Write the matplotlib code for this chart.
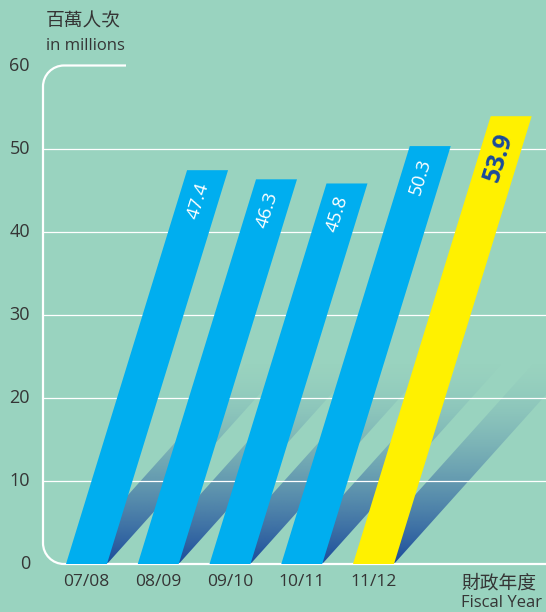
import numpy as np
import matplotlib.pyplot as plt
from matplotlib.patches import Polygon, PathPatch
from matplotlib.path import Path
from matplotlib.colors import to_rgb

plt.rcParams['font.family'] = ['Open Sans', 'Noto Sans CJK TC']

years = ["07/08", "08/09", "09/10", "10/11", "11/12"]
riders = [47.4, 46.3, 45.8, 50.3, 53.9]
y_ticks = [0, 10, 20, 30, 40, 50, 60]

BG = "#99d3bf"
CYAN = "#00aeef"
YELLOW = "#fff100"
NAVY = "#1b4b9b"
INK = "#353535"

W, H = 546, 612
fig = plt.figure(figsize=(W / 100, H / 100), dpi=100, facecolor=BG)

# plot area (pixels) and matching data limits
PX_L, PX_R, PX_B, PX_T = 43, 546, 564, 65.5
XMIN, XMAX = -0.606, 6.404
YMAX = 60
ax = fig.add_axes([PX_L / W, 1 - PX_B / H, (PX_R - PX_L) / W, (PX_B - PX_T) / H])
ax.set_xlim(XMIN, XMAX)
ax.set_ylim(0, YMAX)
ax.axis("off")


def px2x(px):
    return XMIN + (px - PX_L) / (PX_R - PX_L) * (XMAX - XMIN)


def px2y(py):
    return (PX_B - py) / (PX_B - PX_T) * YMAX


bar_w = 0.571
lean = 0.0356        # sideways drift of a bar per unit of height
shadow_lean = 0.104  # drift of the floor shadow
shadow_h = 28

# gradient used for the shadows
v = np.linspace(0, shadow_h, 256)
alpha = np.clip(1 - v / 25, 0, 1) ** 1.7
grad = np.zeros((256, 2, 4))
grad[..., :3] = to_rgb(NAVY)
grad[..., 3] = alpha[:, None]

for i, val in enumerate(riders):
    x0, x1 = i - bar_w / 2, i + bar_w / 2
    sh = Polygon([(x0, 0), (x1, 0), (x1 + shadow_lean * shadow_h, shadow_h),
                  (x0 + shadow_lean * shadow_h, shadow_h)], closed=True,
                 transform=ax.transData, facecolor="none", edgecolor="none")
    ax.add_patch(sh)
    im = ax.imshow(grad, extent=(XMIN, XMAX + 2, 0, shadow_h), origin="lower",
                   aspect="auto", zorder=1, interpolation="bilinear")
    im.set_clip_path(sh)

ax.set_xlim(XMIN, XMAX)
ax.set_ylim(0, YMAX)

# grid lines
for t in y_ticks[1:-1]:
    ax.plot([XMIN, XMAX], [t, t], color="white", lw=0.9, zorder=2)

# frame with rounded corners
r = 21
k = 0.5523
xl, yb, yt = px2x(PX_L), px2y(PX_B), px2y(PX_T)
verts = [
    (px2x(126), yt), (px2x(PX_L + r), yt),
    (px2x(PX_L + r * (1 - k)), yt), (xl, px2y(PX_T + r * (1 - k))), (xl, px2y(PX_T + r)),
    (xl, px2y(PX_B - r)),
    (xl, px2y(PX_B - r * (1 - k))), (px2x(PX_L + r * (1 - k)), yb), (px2x(PX_L + r), yb),
    (XMAX, yb),
]
codes = [Path.MOVETO, Path.LINETO, Path.CURVE4, Path.CURVE4, Path.CURVE4,
         Path.LINETO, Path.CURVE4, Path.CURVE4, Path.CURVE4, Path.LINETO]
ax.add_patch(PathPatch(Path(verts, codes), facecolor="none", edgecolor="white",
                       lw=1.6, zorder=2, clip_on=False, capstyle="butt"))

# leaning bars
for i, val in enumerate(riders):
    x0, x1 = i - bar_w / 2, i + bar_w / 2
    color = YELLOW if i == len(riders) - 1 else CYAN
    ax.add_patch(Polygon([(x0, 0), (x1, 0), (x1 + lean * val, val), (x0 + lean * val, val)],
                         closed=True, facecolor=color, edgecolor="none", zorder=3))

# value labels along the bars
angle = np.degrees(np.arctan2((PX_B - PX_T) / YMAX, lean * (PX_R - PX_L) / (XMAX - XMIN)))
for i, val in enumerate(riders):
    last = i == len(riders) - 1
    yc = val - (5.0 if last else 3.7)
    ax.text(i + lean * yc, yc, f"{val:.1f}", rotation=angle, rotation_mode="anchor",
            ha="center", va="center", zorder=4,
            color=NAVY if last else "white",
            fontsize=18 if last else 13.5, fontweight="bold" if last else "normal")

# tick labels
for t in y_ticks:
    ax.text(px2x(30), t, str(t), ha="right", va="center", fontsize=13, color=INK, clip_on=False)
for i, yr in enumerate(years):
    ax.text(i, px2y(582), yr, ha="center", va="center", fontsize=12.5, color=INK, clip_on=False)

ax.text(px2x(46), px2y(21), "百萬人次", ha="left", va="center", fontsize=13.5, color=INK, clip_on=False)
ax.text(px2x(46), px2y(46), "in millions", ha="left", va="center", fontsize=12, color=INK, clip_on=False)
ax.text(px2x(461), px2y(583), "財政年度", ha="left", va="center", fontsize=13.5, color=INK, clip_on=False)
ax.text(px2x(461), px2y(603), "Fiscal Year", ha="left", va="center", fontsize=12, color=INK, clip_on=False)

fig.savefig("out.png", dpi=100, facecolor=BG)
